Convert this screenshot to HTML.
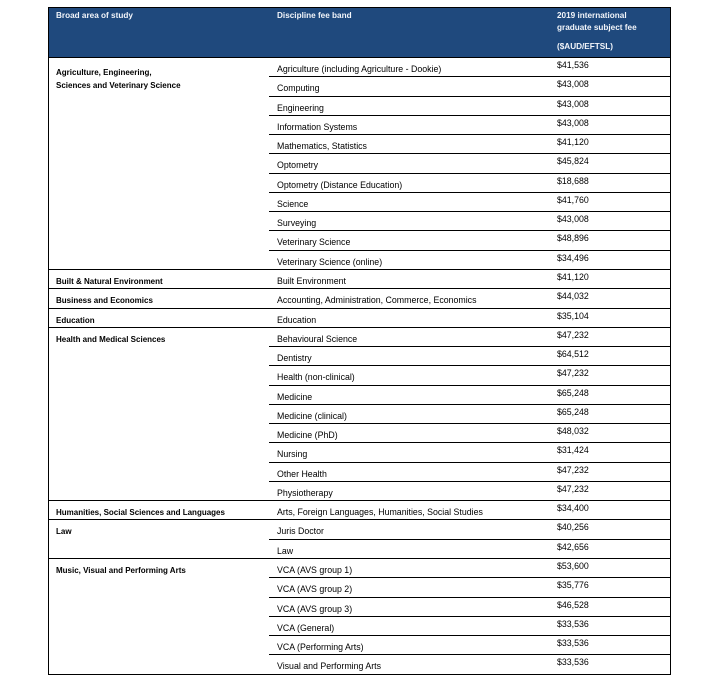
<!DOCTYPE html>
<html>
<head>
<meta charset="utf-8">
<style>
  html, body { margin:0; padding:0; background:#fff; }
  #wrap { position:relative; width:703px; height:677px; overflow:hidden; background:#fff;
          font-family:"Liberation Sans", Arial, sans-serif; color:#000; }
  .box { position:absolute; left:48px; top:7px; width:623px; height:668px; border:1px solid #000; box-sizing:border-box; }
  .hdr { position:absolute; left:49px; top:8px; width:621px; height:49px; background:#1f497d; }
  .ln { position:absolute; height:1px; background:#000; }
  .full { left:48px; width:623px; }
  .part { left:269px; width:402px; }
  .h { position:absolute; font-weight:bold; font-size:8.2px; line-height:12px; color:#f2f5fa; white-space:nowrap; }
  .c1 { position:absolute; left:56px; font-weight:bold; font-size:8px; line-height:19px; height:19px; white-space:nowrap; margin-top:1.5px; }
  .c1m { position:absolute; left:56px; font-weight:bold; font-size:8px; line-height:13px; white-space:nowrap; }
  .c2 { position:absolute; left:277px; font-size:8.8px; line-height:19px; height:19px; white-space:nowrap; margin-top:1.5px; }
  .c3 { position:absolute; left:557px; font-size:8.8px; line-height:13px; white-space:nowrap; margin-top:1.5px; }
</style>
</head>
<body>
<div id="wrap">
  <div class="hdr"></div>
  <div class="box"></div>

  <!-- header text -->
  <div class="h" style="left:56px;top:10px;">Broad area of study</div>
  <div class="h" style="left:277px;top:10px;">Discipline fee band</div>
  <div class="h" style="left:557px;top:10px;">2019 international<br>graduate subject fee</div>
  <div class="h" style="left:557px;top:41px;">($AUD/EFTSL)</div>

  <!-- lines -->
  <div class="ln full" style="top:57px;"></div>
  <div class="ln part" style="top:76px;"></div>
  <div class="ln part" style="top:96px;"></div>
  <div class="ln part" style="top:115px;"></div>
  <div class="ln part" style="top:134px;"></div>
  <div class="ln part" style="top:153px;"></div>
  <div class="ln part" style="top:173px;"></div>
  <div class="ln part" style="top:192px;"></div>
  <div class="ln part" style="top:211px;"></div>
  <div class="ln part" style="top:230px;"></div>
  <div class="ln part" style="top:250px;"></div>
  <div class="ln full" style="top:269px;"></div>
  <div class="ln full" style="top:288px;"></div>
  <div class="ln full" style="top:308px;"></div>
  <div class="ln full" style="top:327px;"></div>
  <div class="ln part" style="top:346px;"></div>
  <div class="ln part" style="top:365px;"></div>
  <div class="ln part" style="top:385px;"></div>
  <div class="ln part" style="top:404px;"></div>
  <div class="ln part" style="top:423px;"></div>
  <div class="ln part" style="top:442px;"></div>
  <div class="ln part" style="top:462px;"></div>
  <div class="ln part" style="top:481px;"></div>
  <div class="ln full" style="top:500px;"></div>
  <div class="ln full" style="top:519px;"></div>
  <div class="ln part" style="top:539px;"></div>
  <div class="ln full" style="top:558px;"></div>
  <div class="ln part" style="top:577px;"></div>
  <div class="ln part" style="top:597px;"></div>
  <div class="ln part" style="top:616px;"></div>
  <div class="ln part" style="top:635px;"></div>
  <div class="ln part" style="top:654px;"></div>

  <!-- column 1 -->
  <div class="c1m" style="top:66px;">Agriculture, Engineering,<br>Sciences and Veterinary Science</div>
  <div class="c1" style="top:270px;">Built &amp; Natural Environment</div>
  <div class="c1" style="top:289px;">Business and Economics</div>
  <div class="c1" style="top:309px;">Education</div>
  <div class="c1" style="top:328px;">Health and Medical Sciences</div>
  <div class="c1" style="top:501px;">Humanities, Social Sciences and Languages</div>
  <div class="c1" style="top:520px;">Law</div>
  <div class="c1" style="top:559px;">Music, Visual and Performing Arts</div>

  <!-- column 2 -->
  <div class="c2" style="top:58px;">Agriculture (including Agriculture - Dookie)</div>
  <div class="c2" style="top:77px;">Computing</div>
  <div class="c2" style="top:97px;">Engineering</div>
  <div class="c2" style="top:116px;">Information Systems</div>
  <div class="c2" style="top:135px;">Mathematics, Statistics</div>
  <div class="c2" style="top:154px;">Optometry</div>
  <div class="c2" style="top:174px;">Optometry (Distance Education)</div>
  <div class="c2" style="top:193px;">Science</div>
  <div class="c2" style="top:212px;">Surveying</div>
  <div class="c2" style="top:231px;">Veterinary Science</div>
  <div class="c2" style="top:251px;">Veterinary Science (online)</div>
  <div class="c2" style="top:270px;">Built Environment</div>
  <div class="c2" style="top:289px;">Accounting, Administration, Commerce, Economics</div>
  <div class="c2" style="top:309px;">Education</div>
  <div class="c2" style="top:328px;">Behavioural Science</div>
  <div class="c2" style="top:347px;">Dentistry</div>
  <div class="c2" style="top:366px;">Health (non-clinical)</div>
  <div class="c2" style="top:386px;">Medicine</div>
  <div class="c2" style="top:405px;">Medicine (clinical)</div>
  <div class="c2" style="top:424px;">Medicine (PhD)</div>
  <div class="c2" style="top:443px;">Nursing</div>
  <div class="c2" style="top:463px;">Other Health</div>
  <div class="c2" style="top:482px;">Physiotherapy</div>
  <div class="c2" style="top:501px;">Arts, Foreign Languages, Humanities, Social Studies</div>
  <div class="c2" style="top:520px;">Juris Doctor</div>
  <div class="c2" style="top:540px;">Law</div>
  <div class="c2" style="top:559px;">VCA (AVS group 1)</div>
  <div class="c2" style="top:578px;">VCA (AVS group 2)</div>
  <div class="c2" style="top:598px;">VCA (AVS group 3)</div>
  <div class="c2" style="top:617px;">VCA (General)</div>
  <div class="c2" style="top:636px;">VCA (Performing Arts)</div>
  <div class="c2" style="top:655px;">Visual and Performing Arts</div>

  <!-- column 3 -->
  <div class="c3" style="top:57px;">$41,536</div>
  <div class="c3" style="top:76px;">$43,008</div>
  <div class="c3" style="top:96px;">$43,008</div>
  <div class="c3" style="top:115px;">$43,008</div>
  <div class="c3" style="top:134px;">$41,120</div>
  <div class="c3" style="top:153px;">$45,824</div>
  <div class="c3" style="top:173px;">$18,688</div>
  <div class="c3" style="top:192px;">$41,760</div>
  <div class="c3" style="top:211px;">$43,008</div>
  <div class="c3" style="top:230px;">$48,896</div>
  <div class="c3" style="top:250px;">$34,496</div>
  <div class="c3" style="top:269px;">$41,120</div>
  <div class="c3" style="top:288px;">$44,032</div>
  <div class="c3" style="top:308px;">$35,104</div>
  <div class="c3" style="top:327px;">$47,232</div>
  <div class="c3" style="top:346px;">$64,512</div>
  <div class="c3" style="top:365px;">$47,232</div>
  <div class="c3" style="top:385px;">$65,248</div>
  <div class="c3" style="top:404px;">$65,248</div>
  <div class="c3" style="top:423px;">$48,032</div>
  <div class="c3" style="top:442px;">$31,424</div>
  <div class="c3" style="top:462px;">$47,232</div>
  <div class="c3" style="top:481px;">$47,232</div>
  <div class="c3" style="top:500px;">$34,400</div>
  <div class="c3" style="top:519px;">$40,256</div>
  <div class="c3" style="top:539px;">$42,656</div>
  <div class="c3" style="top:558px;">$53,600</div>
  <div class="c3" style="top:577px;">$35,776</div>
  <div class="c3" style="top:597px;">$46,528</div>
  <div class="c3" style="top:616px;">$33,536</div>
  <div class="c3" style="top:635px;">$33,536</div>
  <div class="c3" style="top:654px;">$33,536</div>
</div>
</body>
</html>
